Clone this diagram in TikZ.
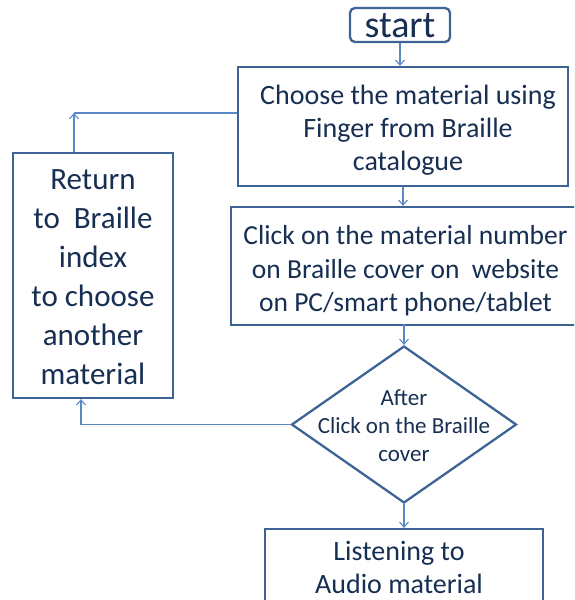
\documentclass[tikz,border=0pt]{standalone}
\usepackage{fontspec}
\setmainfont{Carlito}
\usetikzlibrary{shapes.geometric,arrows.meta}
\definecolor{ink}{HTML}{172F52}
\definecolor{edge}{HTML}{3E6495}
\definecolor{flow}{HTML}{5A87C5}
\begin{document}
\begin{tikzpicture}[x=1pt,y=-1pt,
  box/.style={draw=edge,line width=2.3pt,fill=white,inner sep=0pt},
  btext/.style={text=ink,align=center,inner sep=0pt},
  arr/.style={draw=flow,line width=1.1pt,-{Straight Barb[length=5pt,width=9pt]}},
  link/.style={draw=flow,line width=1.1pt}]
\useasboundingbox (0,0) rectangle (574,600);
\clip (0,0) rectangle (574,600);

% process boxes
\node[box,rounded corners=5pt,minimum width=100pt,minimum height=34pt,
      label={[btext,font=\fontsize{38}{40}\selectfont,yshift=-1pt]center:start}] (start) at (400,25) {};
\node[box,minimum width=330pt,minimum height=119pt,
      label={[btext,font=\fontsize{28}{33}\selectfont,xshift=5pt,yshift=-4pt]center:%
        Choose the material using\\Finger from Braille\\catalogue}] (choose) at (403,126.5) {};
\node[box,minimum width=349pt,minimum height=118pt,
      label={[btext,font=\fontsize{27.5}{33.5}\selectfont,yshift=-5pt]center:%
        Click on the material number\\on Braille cover on~ website\\on PC/smart phone/tablet}] (click) at (405.5,266) {};
\node[box,minimum width=160pt,minimum height=245pt,
      label={[btext,font=\fontsize{31}{39}\selectfont,yshift=-2pt]center:%
        Return\\to~ Braille\\index\\to choose\\another\\material}] (ret) at (93,275.5) {};
\node[box,minimum width=278pt,minimum height=100pt,
      label={[btext,font=\fontsize{28}{33}\selectfont,xshift=-5pt,yshift=12pt]center:%
        Listening to\\Audio material}] (listen) at (404,579) {};

% decision
\node[box,diamond,minimum width=225pt,minimum height=157pt,
      label={[btext,font=\fontsize{23}{28}\selectfont,yshift=-1pt]center:%
        After\\Click on the Braille\\cover}] (dec) at (404,424.5) {};

% main flow
\draw[arr] (start.south) -- (start.south |- choose.north);
\draw[arr] (choose.south) -- (choose.south |- click.north);
\draw[arr] (click.north -| dec.north) ++(0,118) -- (dec.north);
\draw[arr] (dec.south) -- (dec.south |- listen.north);

% loop back to the catalogue
\coordinate (up) at (74,113);
\coordinate (low) at (81,424.5);
\draw[arr] (ret.north -| up) -- (up);
\draw[link] (up) -- (choose.west |- up);
\draw[link] (dec.west) -- (low);
\draw[arr] (low) -- (ret.south -| low);
\end{tikzpicture}
\end{document}
